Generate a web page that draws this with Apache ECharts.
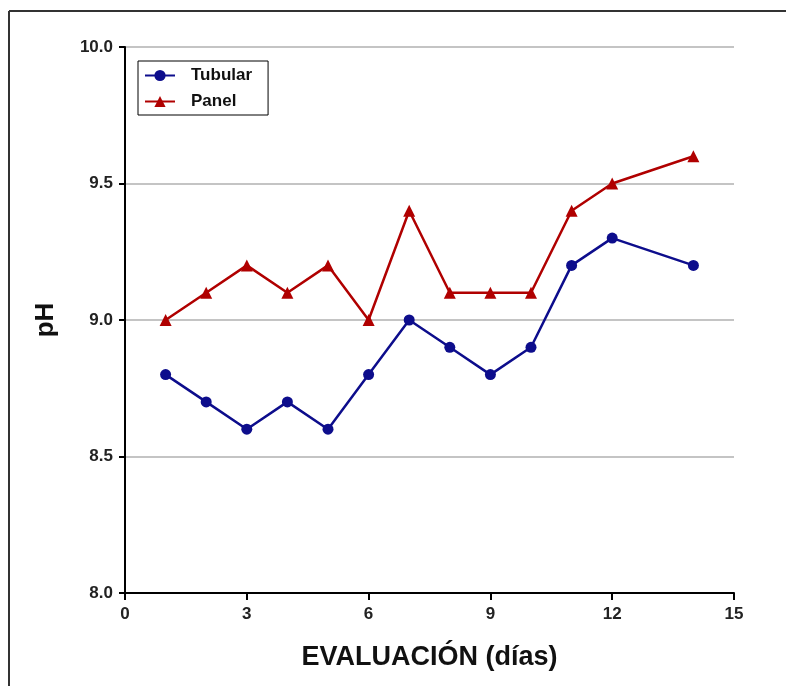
<!DOCTYPE html>
<html>
<head>
<meta charset="utf-8">
<script src="https://cdn.jsdelivr.net/npm/echarts@6/dist/echarts.min.js"></script>
<style>
  html, body { margin: 0; padding: 0; background: #fff; }
  #main { width: 786px; height: 686px; }
</style>
</head>
<body>
<div id="main"></div>
<script>
// datos de pH por día de evaluación
var dias = [1, 2, 3, 4, 5, 6, 7, 8, 9, 10, 11, 12, 14];
var tubular = [8.8, 8.7, 8.6, 8.7, 8.6, 8.8, 9.0, 8.9, 8.8, 8.9, 9.2, 9.3, 9.2];
var panel = [9.0, 9.1, 9.2, 9.1, 9.2, 9.0, 9.4, 9.1, 9.1, 9.1, 9.4, 9.5, 9.6];
var serieNames = ['Tubular', 'Panel'];

function pares(xs, ys) {
    return xs.map(function (x, i) { return [x, ys[i]]; });
}

var fuente = 'Liberation Sans, Arial, sans-serif';

var option = {
    animation: false,
    backgroundColor: '#fff',
    graphic: [
        { type: 'line', shape: { x1: 9, y1: 11, x2: 786, y2: 11 }, style: { stroke: '#333', lineWidth: 2 } },
        { type: 'line', shape: { x1: 9, y1: 11, x2: 9, y2: 686 }, style: { stroke: '#333', lineWidth: 2 } }
    ],
    grid: { left: 125, right: 52, top: 47, bottom: 93 },
    legend: {
        data: serieNames,
        orient: 'vertical',
        left: 138,
        top: 61,
        padding: [6, 16, 5, 6],
        itemGap: 9,
        itemWidth: 30,
        itemHeight: 14,
        borderColor: '#000',
        borderWidth: 1,
        backgroundColor: '#fff',
        textStyle: { fontFamily: fuente, fontWeight: 'bold', fontSize: 17, color: '#111', padding: [0, 0, 0, 11] }
    },
    xAxis: {
        type: 'value',
        min: 0,
        max: 15,
        interval: 3,
        name: 'EVALUACIÓN (días)',
        nameLocation: 'middle',
        nameGap: 51,
        nameTextStyle: { fontFamily: fuente, fontWeight: 'bold', fontSize: 27, color: '#111' },
        axisLine: { lineStyle: { color: '#000', width: 2 } },
        axisTick: { length: 7, lineStyle: { color: '#000', width: 2 } },
        axisLabel: { fontFamily: fuente, fontWeight: 'bold', fontSize: 17, color: '#222', margin: 13 },
        splitLine: { show: false }
    },
    yAxis: {
        type: 'value',
        min: 8,
        max: 10,
        interval: 0.5,
        name: 'pH',
        nameLocation: 'middle',
        nameGap: 66,
        nameTextStyle: { fontFamily: fuente, fontWeight: 'bold', fontSize: 26, color: '#111' },
        axisLine: { show: true, lineStyle: { color: '#000', width: 2 } },
        axisTick: { show: true, length: 6, lineStyle: { color: '#000', width: 2 } },
        axisLabel: {
            fontFamily: fuente, fontWeight: 'bold', fontSize: 17, color: '#222', margin: 12,
            formatter: function (v) { return v.toFixed(1); }
        },
        splitLine: { show: true, lineStyle: { color: '#c4c4c4', width: 2 } }
    },
    series: [
        {
            name: serieNames[0],
            type: 'line',
            data: pares(dias, tubular),
            symbol: 'circle',
            symbolSize: 11,
            itemStyle: { color: '#0d0d8c' },
            lineStyle: { color: '#0d0d8c', width: 2.5 }
        },
        {
            name: serieNames[1],
            type: 'line',
            data: pares(dias, panel),
            symbol: 'triangle',
            symbolSize: 12,
            itemStyle: { color: '#b00000' },
            lineStyle: { color: '#b00000', width: 2.5 }
        }
    ]
};

var myChart = echarts.init(document.getElementById('main'));
myChart.setOption(option);
</script>
</body>
</html>
